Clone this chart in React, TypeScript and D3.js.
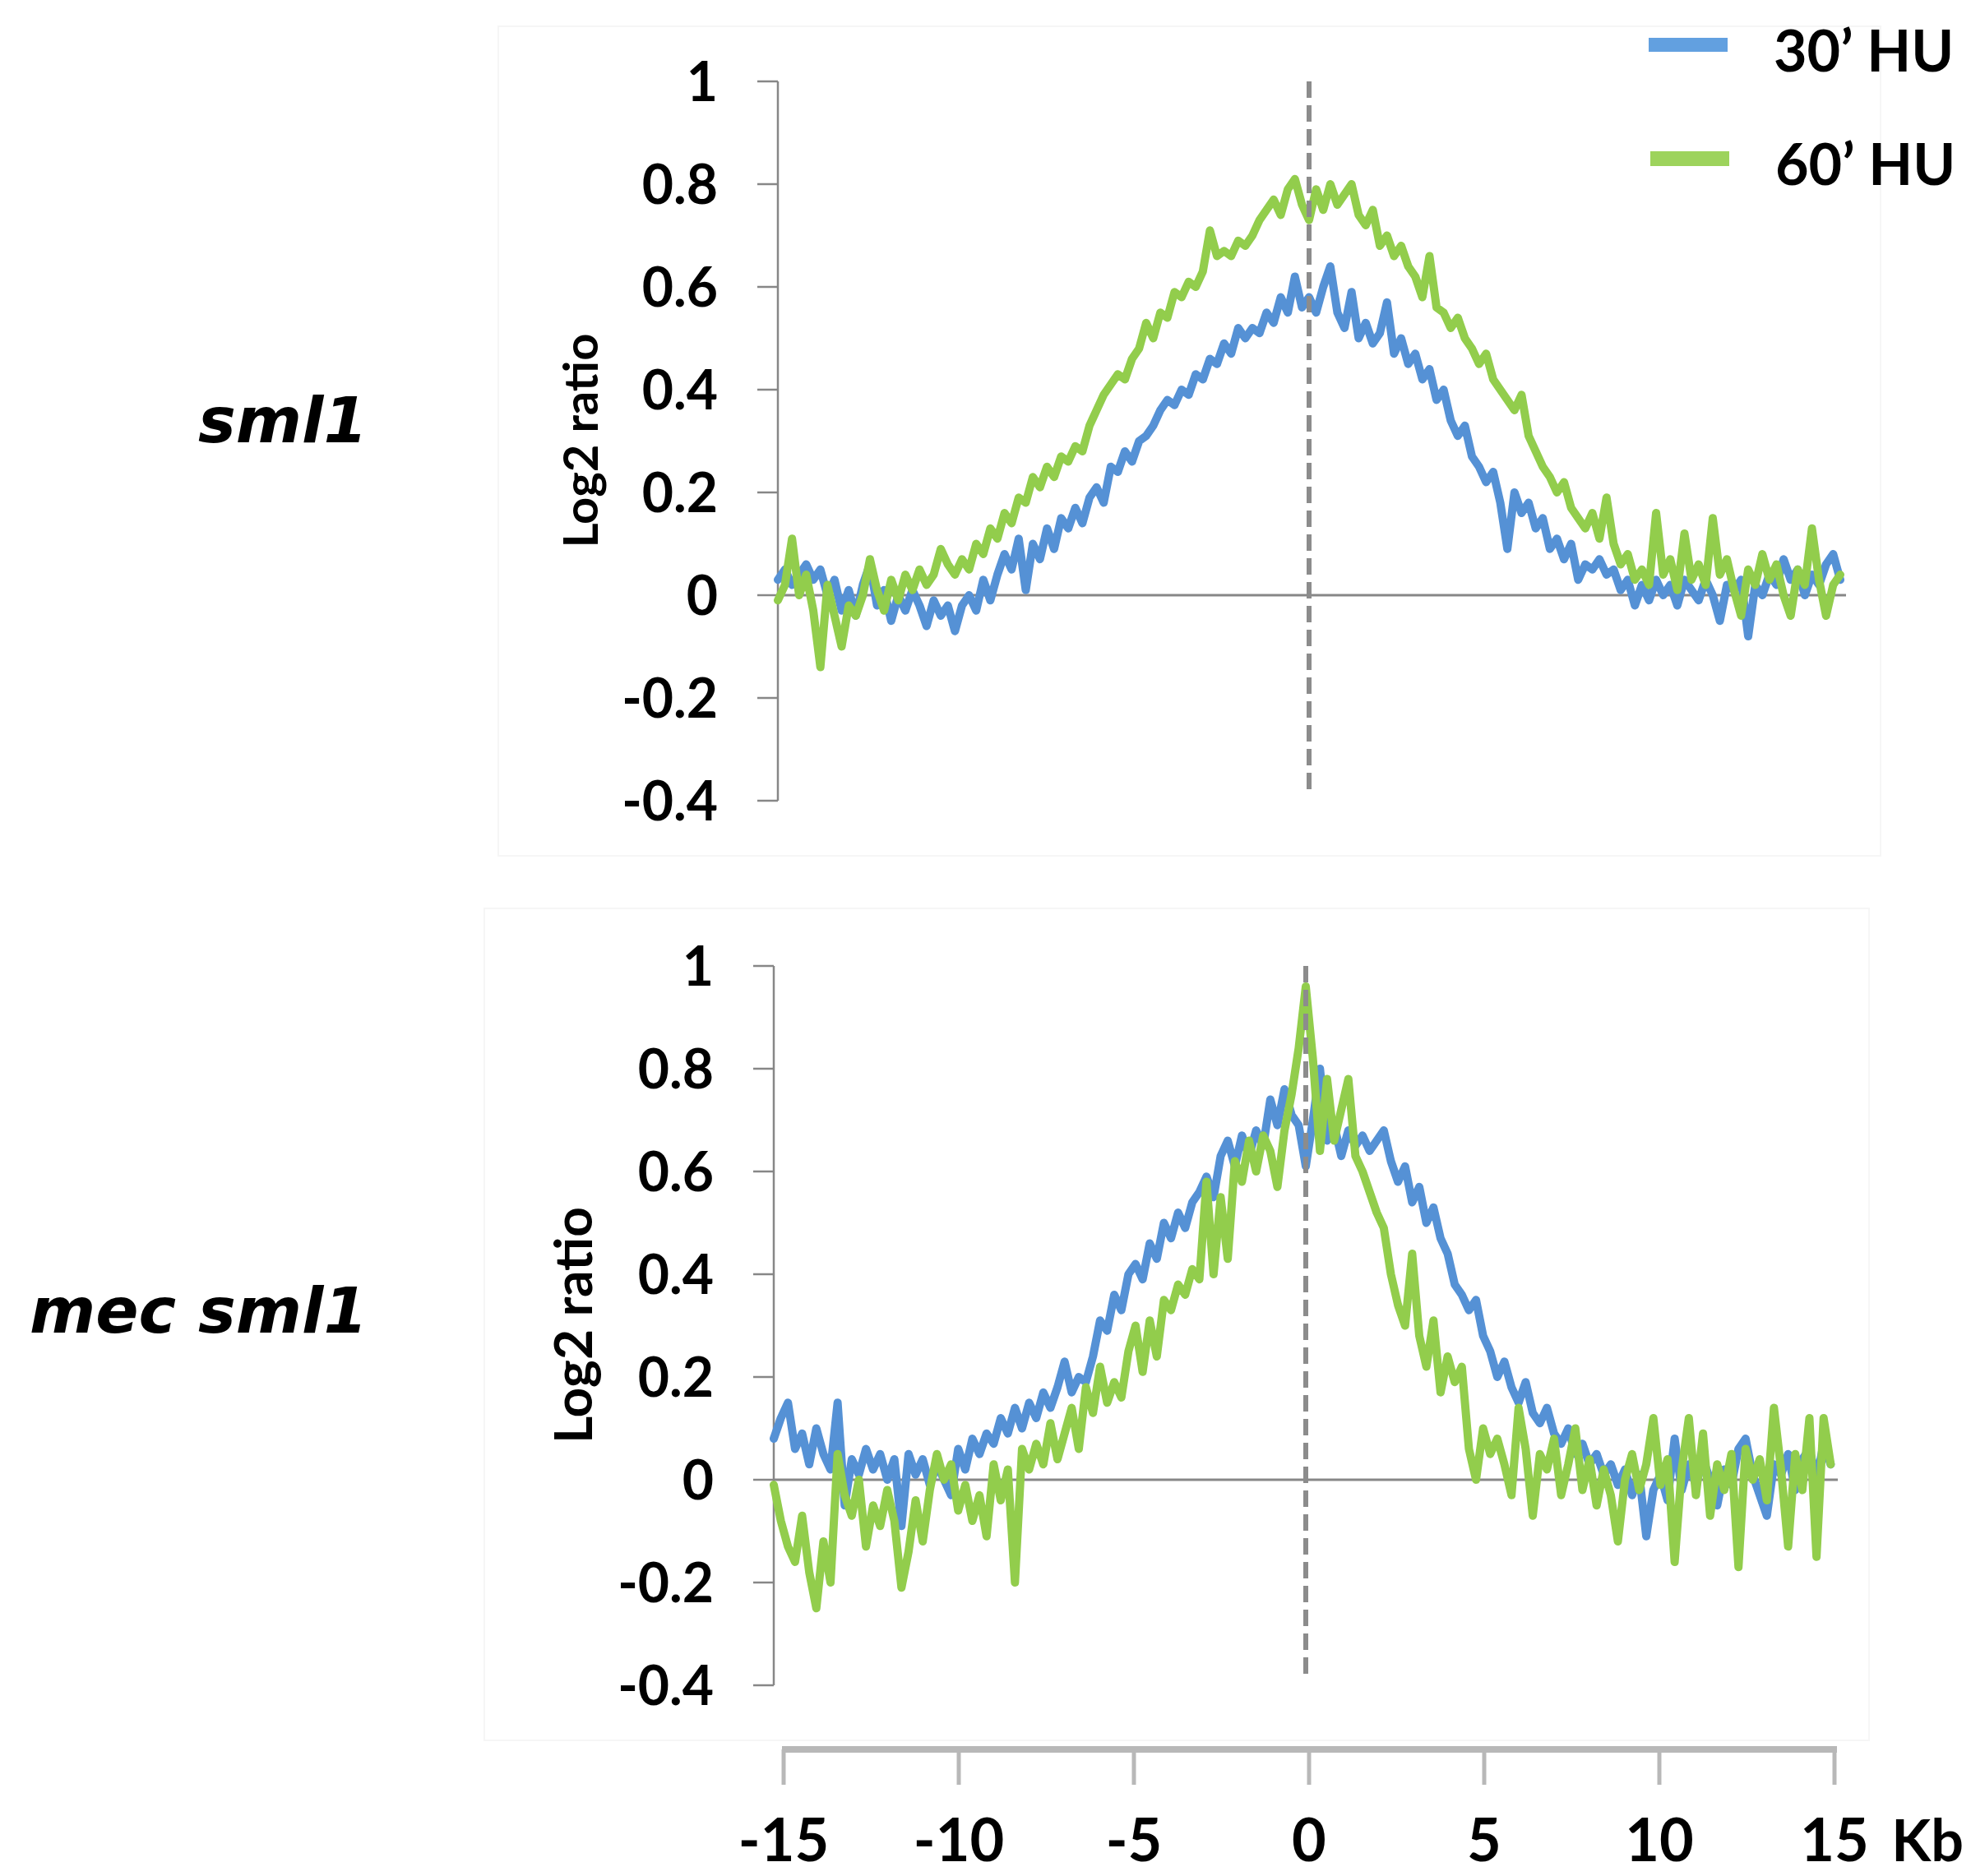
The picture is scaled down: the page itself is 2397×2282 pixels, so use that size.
import React from "react";
import * as d3 from "d3";

// ---------- data ----------
const KB_START = -15;
const KB_STEP = 0.2;

const X_TICKS = [-15, -10, -5, 0, 5, 10, 15];
const X_TICK_LABELS = ["-15", "-10", "-5", "0", "5", "10", "15"];
const X_UNIT = "Kb";
const Y_TICKS = [1, 0.8, 0.6, 0.4, 0.2, 0, -0.2, -0.4];
const Y_TICK_LABELS = ["1", "0.8", "0.6", "0.4", "0.2", "0", "-0.2", "-0.4"];
const Y_TITLE = "Log2 ratio";
const SERIES_NAMES = ["30’ HU", "60’ HU"];
const PANEL_NAMES = ["sml1", "mec sml1"];

// sml1, 30' HU (blue)
const sml1_30 = [
  0.03, 0.05, 0.02, 0.04, 0.06,
  0.03, 0.05, 0.00, 0.03, -0.03,
  0.01, -0.04, 0.02, 0.06, -0.02,
  0.01, -0.05, 0.00, -0.03, 0.01,
  -0.02, -0.06, -0.01, -0.04, -0.02,
  -0.07, -0.02, 0.00, -0.03, 0.03,
  -0.01, 0.04, 0.08, 0.05, 0.11,
  0.01, 0.10, 0.07, 0.13, 0.09,
  0.15, 0.13, 0.17, 0.14, 0.19,
  0.21, 0.18, 0.25, 0.24, 0.28,
  0.26, 0.30, 0.31, 0.33, 0.36,
  0.38, 0.37, 0.40, 0.39, 0.43,
  0.42, 0.46, 0.45, 0.49, 0.47,
  0.52, 0.50, 0.52, 0.51, 0.55,
  0.53, 0.58, 0.55, 0.62, 0.56,
  0.58, 0.55, 0.60, 0.64, 0.55,
  0.52, 0.59, 0.50, 0.53, 0.49,
  0.51, 0.57, 0.47, 0.50, 0.45,
  0.47, 0.42, 0.44, 0.38, 0.40,
  0.34, 0.31, 0.33, 0.27, 0.25,
  0.22, 0.24, 0.18, 0.09, 0.20,
  0.16, 0.18, 0.13, 0.15, 0.09,
  0.11, 0.07, 0.10, 0.03, 0.06,
  0.05, 0.07, 0.04, 0.05, 0.01,
  0.03, -0.02, 0.02, -0.01, 0.03,
  0.00, 0.02, -0.02, 0.03, 0.01,
  -0.01, 0.03, 0.00, -0.05, 0.02,
  0.01, 0.03, -0.08, 0.02, 0.00,
  0.04, 0.02, 0.07, 0.03, 0.05,
  0.00, 0.04, 0.02, 0.06, 0.08,
  0.03,
];

// sml1, 60' HU (green)
const sml1_60 = [
  -0.01, 0.02, 0.11, 0.00, 0.04,
  -0.03, -0.14, 0.02, -0.04, -0.10,
  -0.02, -0.04, 0.00, 0.07, 0.01,
  -0.03, 0.03, -0.01, 0.04, 0.01,
  0.05, 0.02, 0.04, 0.09, 0.06,
  0.04, 0.07, 0.05, 0.10, 0.08,
  0.13, 0.11, 0.16, 0.14, 0.19,
  0.18, 0.23, 0.21, 0.25, 0.23,
  0.27, 0.26, 0.29, 0.28, 0.33,
  0.36, 0.39, 0.41, 0.43, 0.42,
  0.46, 0.48, 0.53, 0.50, 0.55,
  0.54, 0.59, 0.58, 0.61, 0.60,
  0.63, 0.71, 0.66, 0.67, 0.66,
  0.69, 0.68, 0.70, 0.73, 0.75,
  0.77, 0.74, 0.79, 0.81, 0.76,
  0.73, 0.79, 0.75, 0.80, 0.76,
  0.78, 0.80, 0.74, 0.72, 0.75,
  0.68, 0.70, 0.66, 0.68, 0.64,
  0.62, 0.58, 0.66, 0.56, 0.55,
  0.52, 0.54, 0.50, 0.48, 0.45,
  0.47, 0.42, 0.40, 0.38, 0.36,
  0.39, 0.31, 0.28, 0.25, 0.23,
  0.20, 0.22, 0.17, 0.15, 0.13,
  0.16, 0.11, 0.19, 0.10, 0.06,
  0.08, 0.03, 0.05, 0.02, 0.16,
  0.04, 0.07, 0.01, 0.12, 0.03,
  0.06, 0.02, 0.15, 0.04, 0.07,
  0.01, -0.04, 0.05, 0.02, 0.08,
  0.03, 0.06, 0.00, -0.04, 0.05,
  0.02, 0.13, 0.03, -0.04, 0.02,
  0.04,
];

// mec sml1, 30' HU (blue)
const mec_30 = [
  0.08, 0.12, 0.15, 0.06, 0.09,
  0.03, 0.10, 0.05, 0.02, 0.15,
  -0.05, 0.04, 0.01, 0.06, 0.02,
  0.05, 0.00, 0.04, -0.09, 0.05,
  0.01, 0.04, -0.01, 0.03, 0.00,
  -0.03, 0.06, 0.02, 0.08, 0.05,
  0.09, 0.07, 0.12, 0.09, 0.14,
  0.10, 0.15, 0.12, 0.17, 0.14,
  0.18, 0.23, 0.17, 0.20, 0.19,
  0.24, 0.31, 0.29, 0.36, 0.33,
  0.40, 0.42, 0.39, 0.46, 0.43,
  0.50, 0.47, 0.52, 0.49, 0.54,
  0.56, 0.59, 0.55, 0.63, 0.66,
  0.61, 0.67, 0.63, 0.68, 0.65,
  0.74, 0.69, 0.76, 0.71, 0.69,
  0.61, 0.70, 0.80, 0.66, 0.69,
  0.63, 0.68, 0.65, 0.67, 0.64,
  0.66, 0.68, 0.62, 0.58, 0.61,
  0.54, 0.57, 0.50, 0.53, 0.47,
  0.44, 0.38, 0.36, 0.33, 0.35,
  0.28, 0.25, 0.20, 0.23, 0.18,
  0.15, 0.19, 0.13, 0.11, 0.14,
  0.09, 0.07, 0.10, 0.05, 0.07,
  0.03, 0.05, 0.01, 0.03, -0.01,
  0.02, -0.03, 0.01, -0.11, -0.02,
  0.01, -0.04, 0.08, -0.02, 0.03,
  -0.01, 0.04, 0.00, -0.05, 0.02,
  -0.01, 0.06, 0.08, 0.01, -0.03,
  -0.07, 0.03, 0.01, 0.05, -0.02,
  0.04, 0.06, 0.00, 0.07, 0.03,
];

// mec sml1, 60' HU (green)
const mec_60 = [
  -0.01, -0.08, -0.13, -0.16, -0.07,
  -0.18, -0.25, -0.12, -0.20, 0.05,
  -0.03, -0.07, 0.00, -0.13, -0.05,
  -0.09, -0.02, -0.08, -0.21, -0.14,
  -0.04, -0.12, -0.02, 0.05, 0.00,
  0.03, -0.06, -0.01, -0.08, -0.03,
  -0.11, 0.03, -0.04, 0.02, -0.20,
  0.06, 0.02, 0.07, 0.03, 0.11,
  0.04, 0.09, 0.14, 0.06, 0.18,
  0.13, 0.22, 0.15, 0.19, 0.16,
  0.25, 0.30, 0.21, 0.31, 0.24,
  0.35, 0.33, 0.38, 0.36, 0.41,
  0.39, 0.58, 0.40, 0.55, 0.43,
  0.62, 0.58, 0.66, 0.60, 0.67,
  0.64, 0.57, 0.68, 0.75, 0.84,
  0.96, 0.82, 0.64, 0.78, 0.66,
  0.72, 0.78, 0.63, 0.60, 0.56,
  0.52, 0.49, 0.40, 0.34, 0.30,
  0.44, 0.28, 0.22, 0.31, 0.17,
  0.24, 0.19, 0.22, 0.06, 0.00,
  0.10, 0.05, 0.08, 0.03, -0.03,
  0.14, 0.06, -0.07, 0.05, 0.02,
  0.08, -0.03, 0.03, 0.10, -0.02,
  0.04, -0.05, 0.02, -0.03, -0.12,
  0.00, 0.05, -0.02, 0.03, 0.12,
  -0.01, 0.04, -0.16, 0.02, 0.12,
  -0.03, 0.09, -0.07, 0.03, -0.02,
  0.05, -0.17, 0.06, 0.00, 0.04,
  -0.04, 0.14, 0.02, -0.13, 0.05,
  -0.02, 0.12, -0.15, 0.12, 0.03,
];

// ---------- style ----------
const BLUE = "#5591d5";
const GREEN = "#92cd4c";
const BLUE_LEG = "#62a0e0";
const GREEN_LEG = "#9dd35c";
const AXIS_GRAY = "#878787";
const DASH_GRAY = "#8c8c8c";
const XAXIS_GRAY = "#b8b8b8";
const FONT = "Lato, 'Open Sans', sans-serif";
const ITALIC_FONT = "'DejaVu Sans', Verdana, sans-serif";

const W = 2397;
const H = 2282;

type Panel = {
  name: string;
  blue: number[];
  green: number[];
  xr: [number, number];
  yr: [number, number];
  zeroEnd: number;
  titleSize: number;
  titleX: number;
  titleY: number;
  nameY: number;
  border: [number, number, number, number];
};

const panels: Panel[] = [
  {
    name: PANEL_NAMES[0],
    blue: sml1_30,
    green: sml1_60,
    xr: [946, 2238],
    yr: [974, 99],
    zeroEnd: 2245,
    titleSize: 58,
    titleX: 727,
    titleY: 536,
    nameY: 538,
    border: [606, 32, 2287, 1041],
  },
  {
    name: PANEL_NAMES[1],
    blue: mec_30,
    green: mec_60,
    xr: [941, 2235],
    yr: [2050, 1175],
    zeroEnd: 2235,
    titleSize: 64,
    titleX: 720,
    titleY: 1612,
    nameY: 1621,
    border: [589, 1105, 2273, 2117],
  },
];

function PanelView({ p }: { p: Panel }) {
  const x = d3.scaleLinear().domain([-15, 15]).range(p.xr);
  const y = d3.scaleLinear().domain([-0.4, 1]).range(p.yr);
  const line = d3
    .line<number>()
    .x((_, i) => x(KB_START + i * KB_STEP))
    .y((d) => y(d));
  const axisX = p.xr[0];
  const [bx0, by0, bx1, by1] = p.border;
  return (
    <g>
      <rect
        x={bx0}
        y={by0}
        width={bx1 - bx0}
        height={by1 - by0}
        fill="none"
        stroke="#f6f6f6"
        strokeWidth={2}
      />
      {/* y axis */}
      <line x1={axisX} x2={axisX} y1={y(1)} y2={y(-0.4)} stroke={AXIS_GRAY} strokeWidth={2.5} />
      {Y_TICKS.map((t, i) => (
        <g key={t}>
          <line x1={axisX - 25} x2={axisX} y1={y(t)} y2={y(t)} stroke={AXIS_GRAY} strokeWidth={2.5} />
          <text
            x={axisX - 73}
            y={y(t) + 24}
            textAnchor="end"
            fontFamily={FONT}
            fontWeight="bold"
            fontSize={66}
            fill="#000"
          >
            {Y_TICK_LABELS[i]}
          </text>
        </g>
      ))}
      {/* zero line */}
      <line x1={axisX} x2={p.zeroEnd} y1={y(0)} y2={y(0)} stroke={AXIS_GRAY} strokeWidth={3} />
      {/* series */}
      <path d={line(p.blue) || ""} fill="none" stroke={BLUE} strokeWidth={10} strokeLinejoin="round" strokeLinecap="round" />
      <path d={line(p.green) || ""} fill="none" stroke={GREEN} strokeWidth={10} strokeLinejoin="round" strokeLinecap="round" />
      {/* dashed center */}
      <line
        x1={x(0)}
        x2={x(0)}
        y1={y(1)}
        y2={y(-0.38)}
        stroke={DASH_GRAY}
        strokeWidth={6}
        strokeDasharray="20 9"
      />
      {/* y title */}
      <text
        transform={`translate(${p.titleX},${p.titleY}) rotate(-90)`}
        textAnchor="middle"
        fontFamily={FONT}
        fontWeight="bold"
        fontSize={p.titleSize}
        fill="#000"
      >
        {Y_TITLE}
      </text>
      {/* panel name */}
      <text
        x={447}
        y={p.nameY}
        textAnchor="end"
        fontFamily={ITALIC_FONT}
        fontWeight="bold"
        fontStyle="italic"
        fontSize={77}
        fill="#000"
      >
        {p.name}
      </text>
    </g>
  );
}

export default function App() {
  const xb = d3.scaleLinear().domain([-15, 15]).range([953, 2231]);
  return (
    <svg
      width={W}
      height={H}
      viewBox={`0 0 ${W} ${H}`}
      style={{ position: "absolute", left: 0, top: 0, background: "#fff" }}
    >
      <rect x={0} y={0} width={W} height={H} fill="#fff" />
      {panels.map((p) => (
        <PanelView key={p.name} p={p} />
      ))}
      {/* legend */}
      <rect x={2005} y={46} width={96} height={17} fill={BLUE_LEG} />
      <rect x={2007} y={184} width={96} height={18} fill={GREEN_LEG} />
      <text x={2157} y={87} fontFamily={FONT} fontWeight="bold" fontSize={70} fill="#000">
        {SERIES_NAMES[0]}
      </text>
      <text x={2159} y={225} fontFamily={FONT} fontWeight="bold" fontSize={70} fill="#000">
        {SERIES_NAMES[1]}
      </text>
      {/* shared bottom x axis */}
      <line x1={xb(-15) - 2} x2={xb(15) + 3} y1={2128} y2={2128} stroke={XAXIS_GRAY} strokeWidth={8} />
      {X_TICKS.map((t, i) => (
        <g key={t}>
          <line x1={xb(t)} x2={xb(t)} y1={2128} y2={2171} stroke={XAXIS_GRAY} strokeWidth={5} />
          <text
            x={xb(t)}
            y={2264}
            textAnchor="middle"
            fontFamily={FONT}
            fontWeight="bold"
            fontSize={72}
            fill="#000"
          >
            {X_TICK_LABELS[i]}
          </text>
        </g>
      ))}
      <text x={2388} y={2264} textAnchor="end" fontFamily={FONT} fontWeight="bold" fontSize={70} fill="#000">
        {X_UNIT}
      </text>
    </svg>
  );
}
